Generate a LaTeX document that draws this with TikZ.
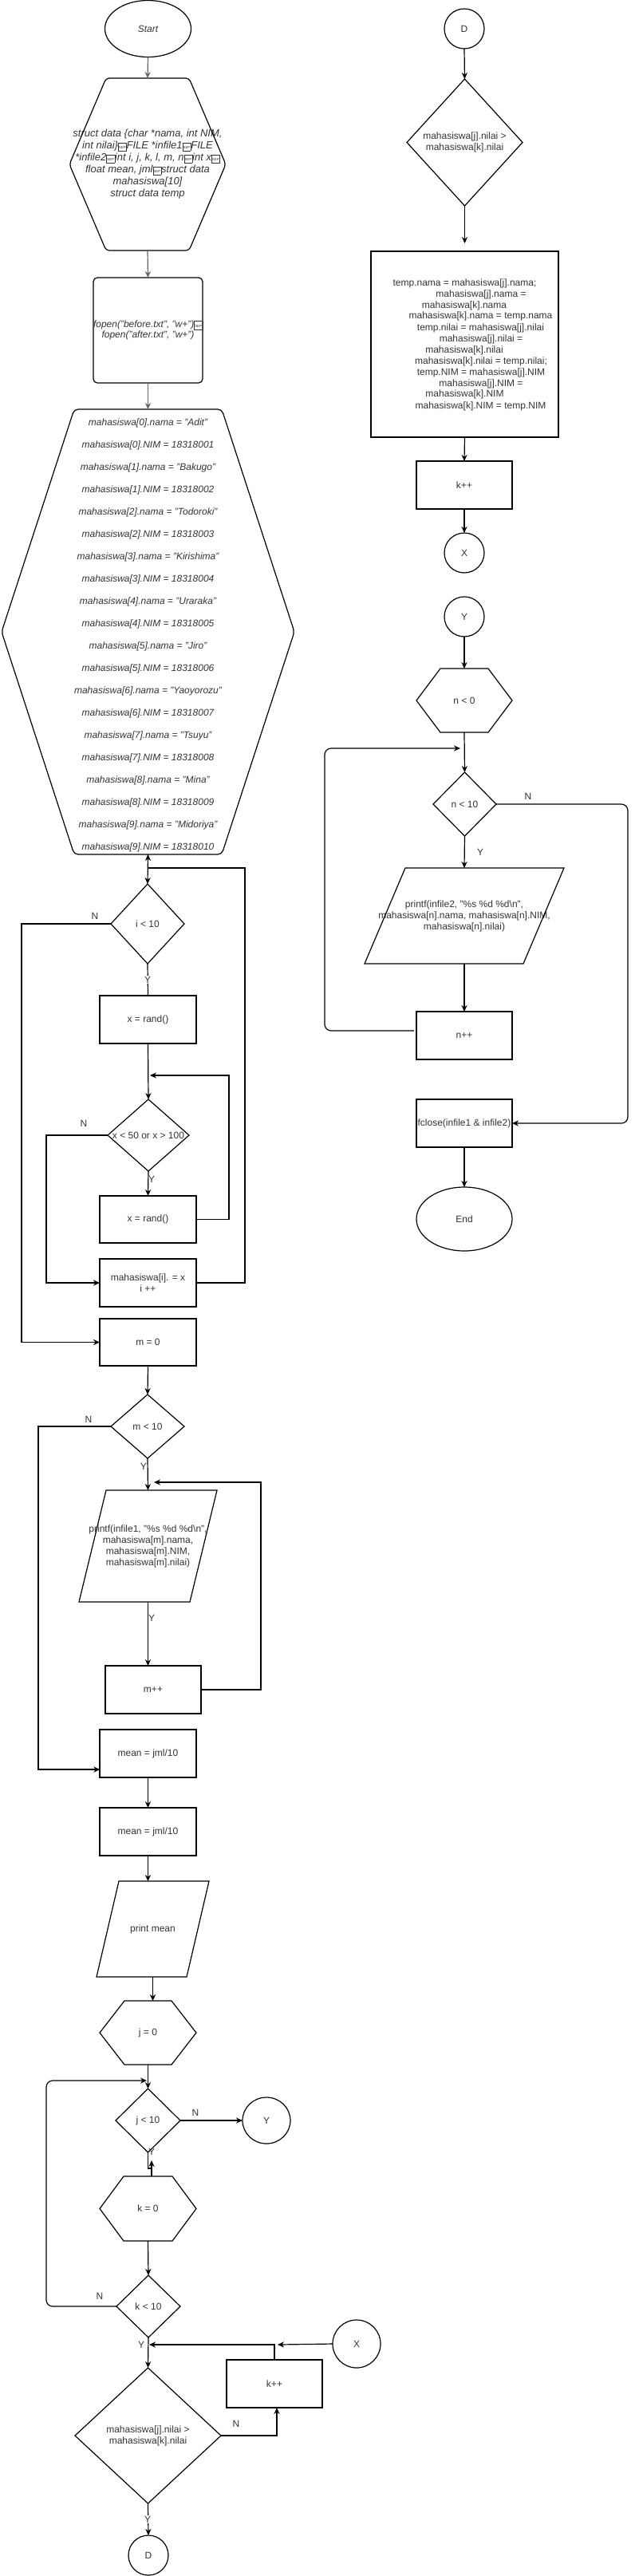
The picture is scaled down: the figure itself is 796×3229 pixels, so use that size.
\documentclass[tikz,border=0pt]{standalone}
\usepackage{fontspec}
\setmainfont{Liberation Sans}
\usetikzlibrary{shapes.geometric,arrows.meta,calc}
\definecolor{txt}{HTML}{333333}
\definecolor{garr}{HTML}{666666}
\newcommand{\sepmark}{{\setlength{\fboxsep}{0.25pt}\setlength{\fboxrule}{0.2pt}\fbox{\upshape\rule[-0.8pt]{0pt}{4.4pt}\fontsize{2.2pt}{2.2pt}\selectfont SEP}}}
\newcommand{\hexpath}[3][]{\draw[#1] (#2.west) -- ([xshift=#3]#2.north west) -- ([xshift=-#3]#2.north east) -- (#2.east) -- ([xshift=-#3]#2.south east) -- ([xshift=#3]#2.south west) -- cycle;}
\newcommand{\diapath}[1]{\draw (#1.north) -- (#1.east) -- (#1.south) -- (#1.west) -- cycle;}
\newcommand{\parpath}[2]{\draw ([xshift=#2]#1.north west) -- (#1.north east) -- ([xshift=-#2]#1.south east) -- (#1.south west) -- cycle;}
\begin{document}
\begin{tikzpicture}[x=0.5pt,y=-0.5pt,line width=0.6pt,
  font=\fontsize{6pt}{7pt}\selectfont,
  every node/.style={text=txt},
  ghost/.style={rectangle,inner sep=0pt,outer sep=0pt,align=center},
  box/.style={draw,rectangle,inner sep=0pt,outer sep=0pt,align=center},
  oval/.style={draw,ellipse,inner sep=0pt,outer sep=0pt},
  arr/.style={-{Stealth[length=4pt,width=3.6pt,inset=1.3pt]}},
  garrow/.style={arr,draw=garr,fill=garr},
  lbl/.style={inner sep=0.6pt},
  lblw/.style={inner sep=0.6pt,fill=white}]
\useasboundingbox (0,0) rectangle (796,3229);

% ---------------- left column ----------------
\node[oval,minimum width=54pt,minimum height=35.5pt] (start) at (185.5,36) {\itshape Start};

\node[ghost,minimum width=98pt,minimum height=108pt,font=\fontsize{6.5pt}{7.5pt}\selectfont\itshape] (h1) at (185,206)
  {struct data \{char *nama, int NIM,\\ int nilai\}\sepmark FILE *infile1\sepmark FILE\\{}*infile2\sepmark int i, j, k, l, m, n\sepmark int x\sepmark\\ float mean, jml\sepmark struct data\\ mahasiswa[10]\\ struct data temp};
\hexpath[rounded corners=2pt]{h1}{23pt}

\node[box,rounded corners=2.5pt,minimum width=68.5pt,minimum height=66pt,font=\fontsize{6pt}{6.6pt}\selectfont\itshape] (fopen) at (185.5,414)
  {fopen("before.txt", "w+")\sepmark\\ fopen("after.txt", "w+")};

\node[ghost,minimum width=183.5pt,minimum height=279pt] (h2) at (185.5,792) {};
\hexpath[rounded corners=2.5pt]{h2}{45.5pt}
\node[ghost,font=\fontsize{6pt}{14pt}\selectfont\itshape] (h2t) at (185.5,796.5)
  {mahasiswa[0].nama = "Adit"\\ mahasiswa[0].NIM = 18318001\\
   mahasiswa[1].nama = "Bakugo"\\ mahasiswa[1].NIM = 18318002\\
   mahasiswa[2].nama = "Todoroki"\\ mahasiswa[2].NIM = 18318003\\
   mahasiswa[3].nama = "Kirishima"\\ mahasiswa[3].NIM = 18318004\\
   mahasiswa[4].nama = "Uraraka"\\ mahasiswa[4].NIM = 18318005\\
   mahasiswa[5].nama = "Jiro"\\ mahasiswa[5].NIM = 18318006\\
   mahasiswa[6].nama = "Yaoyorozu"\\ mahasiswa[6].NIM = 18318007\\
   mahasiswa[7].nama = "Tsuyu"\\ mahasiswa[7].NIM = 18318008\\
   mahasiswa[8].nama = "Mina"\\ mahasiswa[8].NIM = 18318009\\
   mahasiswa[9].nama = "Midoriya"\\ mahasiswa[9].NIM = 18318010};

\node[ghost,minimum width=46pt,minimum height=50pt] (d1) at (185,1158) {i < 10};
\diapath{d1}
\node[box,minimum width=60.5pt,minimum height=30pt] (r1) at (185.5,1278) {x = rand()};
\node[ghost,minimum width=51pt,minimum height=45pt] (d2) at (186,1423) {x < 50 or x > 100};
\diapath{d2}
\node[box,minimum width=60.5pt,minimum height=29.5pt] (r2) at (185.5,1528.5) {x = rand()};
\node[box,minimum width=60.5pt,minimum height=30pt] (r3) at (185.5,1608) {mahasiswa[i]. = x\\ i ++};
\node[box,minimum width=60.5pt,minimum height=29.5pt] (r4) at (185.5,1682.5) {m = 0};
\node[ghost,minimum width=46pt,minimum height=40pt] (d3) at (185,1788) {m < 10};
\diapath{d3}
\node[ghost,minimum width=86.5pt,minimum height=70pt] (p1) at (185.5,1938)
  {printf(infile1, "\%s \%d \%d\textbackslash n",\\ mahasiswa[m].nama,\\ mahasiswa[m].NIM,\\ mahasiswa[m].nilai)};
\parpath{p1}{17pt}
\node[box,minimum width=60pt,minimum height=30pt] (r5) at (192,2118) {m++};
\node[box,minimum width=60.5pt,minimum height=30pt] (r6) at (185.5,2198) {mean = jml/10};
\node[box,minimum width=60.5pt,minimum height=30pt] (r7) at (185.5,2296) {mean = jml/10};
\node[ghost,minimum width=70.5pt,minimum height=60pt] (p2) at (191.5,2418) {print mean};
\parpath{p2}{14pt}
\node[ghost,minimum width=60.5pt,minimum height=40pt] (h3) at (185.5,2548) {j = 0};
\hexpath{h3}{15.5pt}
\node[ghost,minimum width=40.5pt,minimum height=40pt] (d4) at (185.5,2658) {j < 10};
\diapath{d4}
\node[oval,minimum width=30pt,minimum height=29pt] (cY) at (334,2658) {Y};
\node[ghost,minimum width=60.5pt,minimum height=40.5pt] (h4) at (185.5,2768.5) {k = 0};
\hexpath{h4}{15pt}
\node[ghost,minimum width=40pt,minimum height=39pt] (d5) at (186,2891) {k < 10};
\diapath{d5}
\node[ghost,minimum width=91.5pt,minimum height=85pt] (d6) at (185.5,3053) {mahasiswa[j].nilai >\\ mahasiswa[k].nilai};
\diapath{d6}
\node[box,minimum width=60pt,minimum height=30pt] (r8) at (344,2988) {k++};
\node[oval,minimum width=30pt,minimum height=30pt] (cX) at (447,2938) {X};
\node[oval,minimum width=25pt,minimum height=25pt] (cD) at (186,3203) {D};

% ---------------- right column ----------------
\node[oval,minimum width=25pt,minimum height=25pt] (rD) at (582,36) {D};
\node[ghost,minimum width=72.5pt,minimum height=79.5pt] (d7) at (582.5,178.5) {mahasiswa[j].nilai >\\ mahasiswa[k].nilai};
\diapath{d7}
\node[box,minimum width=117.5pt,minimum height=116.5pt] (swap) at (582.5,431.5) {};
\node[ghost] (sw1) at (582.5,355) {temp.nama = mahasiswa[j].nama;};
\node[ghost] (sw2) at (603,369) {mahasiswa[j].nama =};
\node[ghost] (sw3) at (582,383) {mahasiswa[k].nama};
\node[ghost] (sw4) at (602.5,396) {mahasiswa[k].nama = temp.nama};
\node[ghost] (sw5) at (602.5,411) {temp.nilai = mahasiswa[j].nilai};
\node[ghost] (sw6) at (603,425) {mahasiswa[j].nilai =};
\node[ghost] (sw7) at (582,439) {mahasiswa[k].nilai};
\node[ghost] (sw8) at (603,453) {mahasiswa[k].nilai = temp.nilai;};
\node[ghost] (sw9) at (603,467) {temp.NIM = mahasiswa[j].NIM};
\node[ghost] (sw10) at (603,481) {mahasiswa[j].NIM =};
\node[ghost] (sw11) at (582.5,494) {mahasiswa[k].NIM};
\node[ghost] (sw12) at (602.5,509) {mahasiswa[k].NIM = temp.NIM};
\node[box,minimum width=60pt,minimum height=30pt] (r9) at (582,608) {k++};
\node[oval,minimum width=25pt,minimum height=25pt] (cX2) at (582,693) {X};
\node[oval,minimum width=25pt,minimum height=25pt] (cY2) at (582,773) {Y};
\node[ghost,minimum width=60pt,minimum height=40pt] (h5) at (582,878) {n < 0};
\hexpath{h5}{15pt}
\node[ghost,minimum width=39.5pt,minimum height=40pt] (d8) at (582.5,1008) {n < 10};
\diapath{d8}
\node[ghost,minimum width=125pt,minimum height=60pt] (p3) at (582,1148)
  {printf(infile2, "\%s \%d \%d\textbackslash n",\\ mahasiswa[n].nama, mahasiswa[n].NIM,\\ mahasiswa[n].nilai)};
\parpath{p3}{25.5pt}
\node[box,minimum width=60pt,minimum height=30pt] (r10) at (582,1298) {n++};
\node[box,minimum width=60pt,minimum height=30pt] (r11) at (582,1408) {fclose(infile1 \& infile2)};
\node[oval,minimum width=60pt,minimum height=40pt] (rEnd) at (582,1528) {End};

% ---------------- connectors ----------------
\draw[garrow] (start.south) -- (h1.north);
\draw[garrow] (h1.south) -- (fopen.north);
\draw[garrow] (fopen.south) -- (h2.north);

\draw[arr] (h2.south) -- (d1.north);
\coordinate (c1) at (307,1088);
\draw[arr] (r3.east) -| (c1) -| (h2.south);
\draw (d1.south) -- (r1.north);
\draw[arr] (r1.south) -- (d2.north);
\coordinate (c2) at (287,1348);
\coordinate (c2t) at (188,1348);
\draw[arr] (r2.east) -| (c2) -- (c2t);
\coordinate (c3) at (27,1158);
\draw[arr] (d1.west) -- (c3) |- (r4.west);
\coordinate (c4) at (58,1423);
\draw[arr] (d2.west) -- (c4) |- (r3.west);
\draw[arr] (d2.south) -- (r2.north);
\draw[arr] (r4.south) -- (d3.north);
\coordinate (c5) at (48,1788);
\coordinate (c5t) at (125.25,2218);
\draw[arr] (d3.west) -- (c5) |- (c5t);
\draw[arr] (d3.south) -- (p1.north);
\draw[arr] (p1.south) -- (p1.south |- r5.north);
\coordinate (c6) at (327,1858);
\coordinate (c6t) at (193,1858);
\draw[arr] (r5.east) -| (c6) -- (c6t);
\draw[arr] (r6.south) -- (r7.north);
\draw[arr] (r7.south) -- (r7.south |- p2.north);
\draw[arr] (p2.south) -- (p2.south |- h3.north);
\draw[arr] (h3.south) -- (d4.north);
\coordinate (c7) at (58,2608);
\coordinate (c7t) at (184,2608);
\draw[arr,rounded corners=4pt] (d5.west) -| (c7) -- (c7t);
\draw[arr] (d4.east) -- (cY.west);
\coordinate (cJ) at (190,2718);
\coordinate (cJt) at (190,2708);
\draw (d4.south) |- (cJ);
\draw[arr] (h4.north -| cJ) -- (cJt);
\draw[arr] (h4.south) -- (d5.north);
\draw[arr] (d5.south) -- (d6.north);
\coordinate (c8) at (187,2939);
\draw[arr] (r8.north) |- (c8);
\coordinate (c9) at (348,2939);
\draw[arr] (cX.west) -- (c9);
\coordinate (c10) at (347,3053);
\draw[arr] (d6.east) -- (c10) -- (c10 |- r8.south);
\draw[arr] (d6.south) -- (cD.north);

\draw[arr] (rD.south) -- (d7.north);
\coordinate (c11) at (582.5,305);
\draw[arr] (d7.south) -- (c11);
\draw[arr] (swap.south) -- (r9.north);
\draw[arr] (r9.south) -- (cX2.north);
\draw[arr] (cY2.south) -- (h5.north);
\draw[arr] (h5.south) -- (d8.north);
\draw[arr] (d8.south) -- (p3.north);
\draw[arr] (p3.south) -- (r10.north);
\coordinate (c12) at (407,938);
\coordinate (c12t) at (577,938);
\draw[arr,rounded corners=4pt] ([yshift=3pt,xshift=-1.5pt]r10.west) -| (c12) -- (c12t);
\coordinate (c13) at (787,1008);
\draw[arr,rounded corners=4pt] (d8.east) -- (c13) |- (r11.east);
\draw[arr] (r11.south) -- (rEnd.north);

% ---------------- labels ----------------
\node[lbl] (n1) at (119,1148) {N};
\node[lbl] (n2) at (105,1408) {N};
\node[lbl] (n3) at (111,1779) {N};
\node[lbl] (n4) at (125,2878) {N};
\node[lbl] (n5) at (245,2648) {N};
\node[lbl] (n6) at (296,3038) {N};
\node[lbl] (n7) at (662,998) {N};
\node[lblw] (y1) at (185,1228) {Y};
\node[lbl] (y2) at (190,1478) {Y};
\node[lbl] (y3) at (180,1838) {Y};
\node[lbl] (y4) at (190,2028) {Y};
\node[lbl] (y5) at (190,2697) {Y};
\node[lbl] (y6) at (177,2939) {Y};
\node[lblw] (y7) at (185,3158) {Y};
\node[lbl] (y8) at (602,1068) {Y};
\end{tikzpicture}
\end{document}
